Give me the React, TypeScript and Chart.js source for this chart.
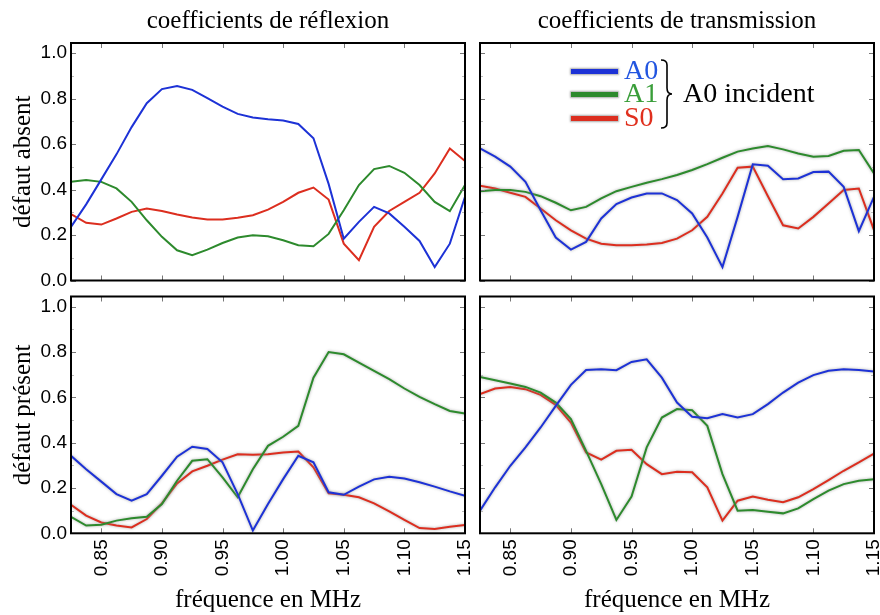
import React, { useEffect, useRef } from "react";
import { Chart, registerables } from "chart.js";

Chart.register(...registerables);

// ---------- data ----------
const freqMHz = [
  0.825, 0.8375, 0.85, 0.8625, 0.875, 0.8875, 0.9, 0.9125, 0.925, 0.9375, 0.95, 0.9625, 0.975, 0.9875,
  1.0, 1.0125, 1.025, 1.0375, 1.05, 1.0625, 1.075, 1.0875, 1.1, 1.1125, 1.125, 1.1375, 1.15,
];
const xTickValues = [0.85, 0.9, 0.95, 1.0, 1.05, 1.1, 1.15];
const yTickValues = [0, 0.2, 0.4, 0.6, 0.8, 1.0];
const yMinorValues = [0.1, 0.3, 0.5, 0.7, 0.9];

const seriesNames = ["A0", "A1", "S0"];
const seriesColors = ["#1d32d6", "#2d8a2d", "#dc2e1f"];
const legendTextColors = ["#2255e0", "#3a9e3a", "#e0301e"];

const panelTitles = ["coefficients de réflexion", "coefficients de transmission"];
const rowTitles = ["défaut absent", "défaut présent"];
const xAxisTitle = "fréquence en MHz";
const legendGroup = "A0 incident";

// réflexion, défaut absent
const reflAbsentA0 = [0.236, 0.335, 0.445, 0.555, 0.675, 0.78, 0.842, 0.856, 0.839, 0.802, 0.765, 0.733, 0.717, 0.709, 0.704, 0.689, 0.626, 0.425, 0.184, 0.258, 0.324, 0.295, 0.236, 0.174, 0.059, 0.162, 0.368];
const reflAbsentA1 = [0.434, 0.442, 0.434, 0.405, 0.346, 0.265, 0.192, 0.133, 0.111, 0.136, 0.165, 0.189, 0.199, 0.195, 0.177, 0.155, 0.151, 0.205, 0.309, 0.42, 0.49, 0.504, 0.474, 0.42, 0.346, 0.305, 0.42];
const reflAbsentS0 = [0.292, 0.254, 0.246, 0.273, 0.302, 0.317, 0.306, 0.29, 0.277, 0.268, 0.268, 0.276, 0.287, 0.312, 0.346, 0.386, 0.409, 0.356, 0.162, 0.089, 0.236, 0.306, 0.346, 0.386, 0.471, 0.581, 0.526];

// transmission, défaut absent
const transAbsentA0 = [0.581, 0.545, 0.501, 0.434, 0.309, 0.189, 0.136, 0.17, 0.273, 0.336, 0.365, 0.383, 0.383, 0.354, 0.295, 0.189, 0.059, 0.28, 0.511, 0.505, 0.446, 0.449, 0.477, 0.479, 0.412, 0.217, 0.368];
const transAbsentA1 = [0.393, 0.398, 0.398, 0.39, 0.371, 0.342, 0.309, 0.324, 0.361, 0.393, 0.412, 0.43, 0.446, 0.464, 0.486, 0.512, 0.54, 0.567, 0.581, 0.592, 0.577, 0.559, 0.545, 0.548, 0.571, 0.574, 0.471];
const transAbsentS0 = [0.417, 0.405, 0.386, 0.368, 0.317, 0.265, 0.221, 0.184, 0.162, 0.155, 0.155, 0.158, 0.165, 0.184, 0.221, 0.28, 0.383, 0.496, 0.501, 0.371, 0.243, 0.229, 0.28, 0.339, 0.398, 0.405, 0.222];

// réflexion, défaut présent
const reflPresentA0 = [0.342, 0.283, 0.228, 0.173, 0.144, 0.173, 0.254, 0.338, 0.382, 0.372, 0.313, 0.173, 0.012, 0.129, 0.239, 0.342, 0.313, 0.181, 0.17, 0.206, 0.238, 0.25, 0.242, 0.225, 0.206, 0.185, 0.166];
const reflPresentA1 = [0.073, 0.034, 0.038, 0.056, 0.066, 0.073, 0.129, 0.232, 0.32, 0.327, 0.247, 0.159, 0.283, 0.386, 0.426, 0.474, 0.687, 0.8, 0.79, 0.753, 0.717, 0.68, 0.639, 0.602, 0.57, 0.54, 0.529];
const reflPresentS0 = [0.126, 0.078, 0.048, 0.034, 0.026, 0.063, 0.132, 0.22, 0.273, 0.298, 0.325, 0.349, 0.347, 0.349, 0.357, 0.361, 0.291, 0.176, 0.17, 0.159, 0.132, 0.097, 0.059, 0.023, 0.019, 0.029, 0.037];

// transmission, défaut présent
const transPresentA0 = [0.1, 0.203, 0.298, 0.379, 0.467, 0.562, 0.655, 0.721, 0.724, 0.72, 0.756, 0.768, 0.687, 0.577, 0.514, 0.508, 0.526, 0.511, 0.526, 0.57, 0.621, 0.665, 0.698, 0.717, 0.724, 0.721, 0.714];
const transPresentA1 = [0.69, 0.675, 0.661, 0.646, 0.621, 0.577, 0.504, 0.364, 0.217, 0.059, 0.162, 0.379, 0.511, 0.548, 0.543, 0.474, 0.261, 0.1, 0.103, 0.095, 0.088, 0.11, 0.151, 0.188, 0.217, 0.232, 0.238];
const transPresentS0 = [0.614, 0.639, 0.646, 0.636, 0.611, 0.567, 0.489, 0.357, 0.325, 0.364, 0.369, 0.305, 0.261, 0.272, 0.269, 0.203, 0.056, 0.144, 0.162, 0.148, 0.137, 0.159, 0.195, 0.235, 0.276, 0.313, 0.352];

// ---------- style ----------
const SERIF = "'Liberation Serif', 'Times New Roman', serif";
const SANS = "'Liberation Sans', Arial, sans-serif";
const X_MIN = 0.825;
const X_MAX = 1.15;
const Y_MIN = 0;
const Y_MAX = 1.045;

const framePlugin = {
  id: "frame",
  beforeDatasetsDraw(chart: any, _a: any, opts: any) {
    const ctx = chart.ctx;
    ctx.save();
    if (opts && opts.halo) {
      ctx.shadowColor = "rgba(140,140,140,0.75)";
      ctx.shadowBlur = 3;
    }
  },
  afterDatasetsDraw(chart: any) {
    chart.ctx.restore();
  },
  afterDraw(chart: any) {
    const { ctx, chartArea: a, scales } = chart;
    const xs = scales.x;
    const ys = scales.y;
    ctx.save();
    ctx.lineWidth = 1;
    ctx.strokeStyle = "#777";
    ctx.beginPath();
    for (const v of yTickValues) {
      const p = Math.round(ys.getPixelForValue(v)) + 0.5;
      ctx.moveTo(a.left, p);
      ctx.lineTo(a.left + 5, p);
      ctx.moveTo(a.right - 5, p);
      ctx.lineTo(a.right, p);
    }
    for (const v of xTickValues) {
      const p = Math.round(xs.getPixelForValue(v)) + 0.5;
      ctx.moveTo(p, a.top);
      ctx.lineTo(p, a.top + 5);
      ctx.moveTo(p, a.bottom - 5);
      ctx.lineTo(p, a.bottom);
    }
    ctx.stroke();
    ctx.strokeStyle = "#bbb";
    ctx.beginPath();
    for (const v of yMinorValues) {
      const p = Math.round(ys.getPixelForValue(v)) + 0.5;
      ctx.moveTo(a.left, p);
      ctx.lineTo(a.left + 3, p);
      ctx.moveTo(a.right - 3, p);
      ctx.lineTo(a.right, p);
    }
    ctx.stroke();
    ctx.strokeStyle = "#000";
    ctx.lineWidth = 2;
    ctx.strokeRect(a.left, a.top, a.right - a.left, a.bottom - a.top);
    ctx.restore();
  },
};

type PanelSpec = {
  series: number[][];
  showYLabels: boolean;
  showXLabels: boolean;
  topTitle?: string;
  yTitle?: string;
  xTitle?: string;
  padding: { left: number; right: number; top: number; bottom: number };
  halo: boolean;
};

function buildConfig(spec: PanelSpec): any {
  const scales: any = {
    x: {
      type: "linear",
      position: "bottom",
      min: X_MIN,
      max: X_MAX,
      display: spec.showXLabels,
      afterBuildTicks: (s: any) => {
        s.ticks = xTickValues.map((v) => ({ value: v }));
      },
      afterFit: (s: any) => {
        s.height = spec.showXLabels ? 81.7 : 0;
        s.paddingLeft = 0;
        s.paddingRight = 0;
      },
      grid: { display: false, drawTicks: false },
      border: { display: false },
      ticks: {
        autoSkip: false,
        minRotation: 90,
        maxRotation: 90,
        padding: 6,
        color: "#000",
        font: { family: SANS, size: 19 },
        callback: (v: any) => Number(v).toFixed(2),
      },
      title: {
        display: !!spec.xTitle,
        text: spec.xTitle || "",
        color: "#000",
        font: { family: SERIF, size: 25 },
        padding: { top: 0, bottom: 0 },
      },
    },
    y: {
      type: "linear",
      position: "left",
      min: Y_MIN,
      max: Y_MAX,
      display: spec.showYLabels,
      afterBuildTicks: (s: any) => {
        s.ticks = yTickValues.map((v) => ({ value: v }));
      },
      afterFit: (s: any) => {
        s.width = spec.showYLabels ? 71 : 0;
        s.paddingTop = 0;
        s.paddingBottom = 0;
      },
      grid: { display: false, drawTicks: false },
      border: { display: false },
      ticks: {
        padding: 4,
        color: "#000",
        font: { family: SANS, size: 19 },
        callback: (v: any) => Number(v).toFixed(1),
      },
      title: {
        display: !!spec.yTitle,
        text: spec.yTitle || "",
        color: "#000",
        font: { family: SERIF, size: 25 },
        padding: { top: 8, bottom: 0 },
      },
    },
  };
  if (spec.topTitle) {
    scales.x2 = {
      type: "linear",
      position: "top",
      min: X_MIN,
      max: X_MAX,
      afterFit: (s: any) => {
        s.height = 43;
        s.paddingLeft = 0;
        s.paddingRight = 0;
      },
      grid: { display: false, drawTicks: false },
      border: { display: false },
      ticks: { display: false },
      title: {
        display: true,
        text: spec.topTitle,
        color: "#000",
        font: { family: SERIF, size: 25 },
        padding: { top: 6, bottom: 0 },
      },
    };
  }
  return {
    type: "line",
    data: {
      datasets: spec.series.map((vals, k) => ({
        label: seriesNames[k],
        data: freqMHz.map((f, i) => ({ x: f, y: vals[i] })),
        borderColor: seriesColors[k],
        backgroundColor: seriesColors[k],
        borderWidth: 2,
        pointRadius: 0,
        tension: 0,
        fill: false,
      })),
    },
    options: {
      responsive: false,
      animation: false,
      devicePixelRatio: 1,
      layout: { padding: spec.padding },
      scales,
      plugins: {
        legend: { display: false },
        tooltip: { enabled: false },
        title: { display: false },
        frame: { halo: spec.halo },
      },
    },
    plugins: [framePlugin],
  };
}

function Panel(props: { spec: PanelSpec; left: number; top: number; width: number; height: number }) {
  const ref = useRef<HTMLCanvasElement | null>(null);
  useEffect(() => {
    if (!ref.current) return;
    const chart = new Chart(ref.current, buildConfig(props.spec));
    return () => chart.destroy();
  }, []);
  return (
    <canvas
      ref={ref}
      width={props.width}
      height={props.height}
      style={{ position: "absolute", left: props.left, top: props.top, width: props.width, height: props.height }}
    />
  );
}

const legendText = { position: "absolute" as const, fontFamily: SERIF, fontSize: 28, lineHeight: "28px", whiteSpace: "nowrap" as const };

export default function App() {
  const specs: PanelSpec[] = [
    {
      series: [reflAbsentA0, reflAbsentA1, reflAbsentS0],
      showYLabels: true,
      showXLabels: false,
      topTitle: panelTitles[0],
      yTitle: rowTitles[0],
      padding: { left: 0, right: 10, top: 0, bottom: 9.5 },
      halo: false,
    },
    {
      series: [transAbsentA0, transAbsentA1, transAbsentS0],
      showYLabels: false,
      showXLabels: false,
      topTitle: panelTitles[1],
      padding: { left: 5, right: 6, top: 0, bottom: 9.5 },
      halo: true,
    },
    {
      series: [reflPresentA0, reflPresentA1, reflPresentS0],
      showYLabels: true,
      showXLabels: true,
      yTitle: rowTitles[1],
      xTitle: xAxisTitle,
      padding: { left: 0, right: 10, top: 6.5, bottom: 0 },
      halo: true,
    },
    {
      series: [transPresentA0, transPresentA1, transPresentS0],
      showYLabels: false,
      showXLabels: true,
      xTitle: xAxisTitle,
      padding: { left: 5, right: 6, top: 6.5, bottom: 0 },
      halo: true,
    },
  ];
  const legendRows = [56, 79, 103];
  return (
    <div style={{ position: "absolute", left: 0, top: 0, width: 880, height: 615, background: "#fff", overflow: "hidden" }}>
      <Panel spec={specs[0]} left={0} top={0} width={475} height={290} />
      <Panel spec={specs[1]} left={475} top={0} width={405} height={290} />
      <Panel spec={specs[2]} left={0} top={290} width={475} height={325} />
      <Panel spec={specs[3]} left={475} top={290} width={405} height={325} />
      {seriesNames.map((n, k) => (
        <React.Fragment key={n}>
          <div
            style={{
              position: "absolute",
              left: 571,
              top: legendRows[k] + 13,
              width: 47,
              height: 5,
              background: seriesColors[k],
              boxShadow: "0 0 2px 1px rgba(150,150,150,0.8)",
            }}
          />
          <div style={{ ...legendText, left: 624, top: legendRows[k], color: legendTextColors[k] }}>{n}</div>
        </React.Fragment>
      ))}
      <svg style={{ position: "absolute", left: 655, top: 55, width: 25, height: 80 }} width={25} height={80}>
        <path
          d="M6 5 Q12 5 12 10 L12 33 Q12 39 17 39 Q12 39 12 45 L12 68 Q12 73 6 73"
          fill="none"
          stroke="#000"
          strokeWidth={1.6}
        />
      </svg>
      <div style={{ ...legendText, left: 683, top: 79, color: "#000" }}>{legendGroup}</div>
    </div>
  );
}
